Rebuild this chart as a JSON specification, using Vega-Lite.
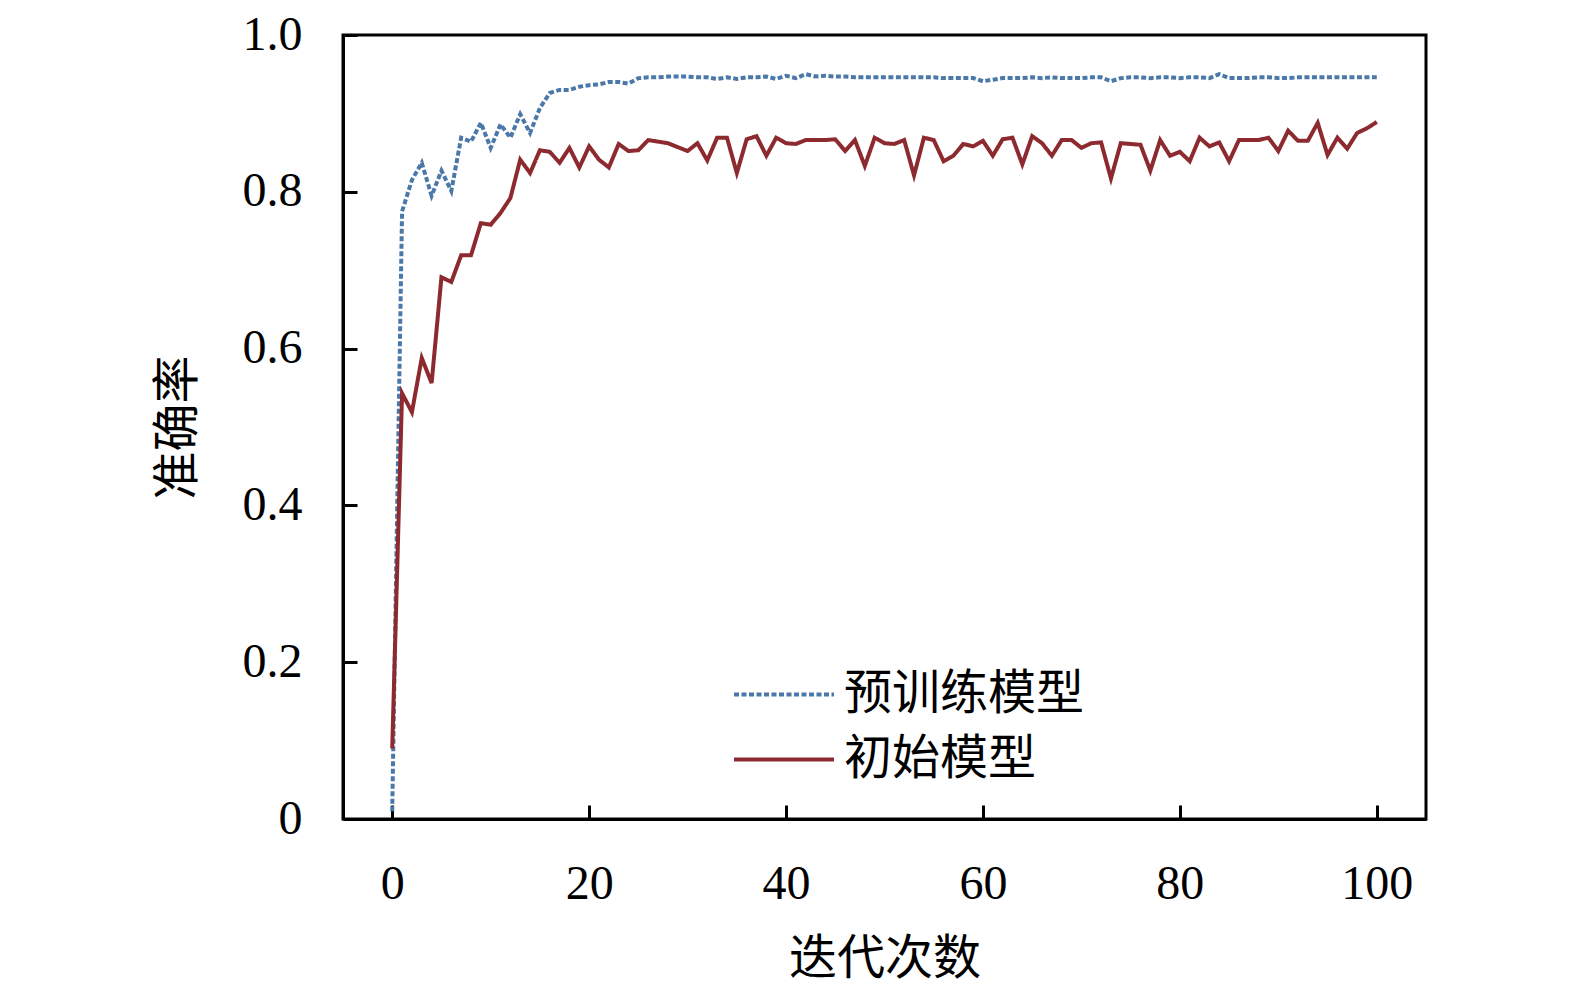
{
  "$schema": "https://vega.github.io/schema/vega-lite/v6.json",
  "width": 1083,
  "height": 784,
  "autosize": {"type": "none"},
  "padding": {"left": 343, "top": 35, "right": 149, "bottom": 171},
  "background": "white",
  "data": {
    "values": [
      {"epoch": 0, "pretrained": 0.01, "initial": 0.09},
      {"epoch": 1, "pretrained": 0.775, "initial": 0.543},
      {"epoch": 2, "pretrained": 0.815, "initial": 0.519},
      {"epoch": 3, "pretrained": 0.837, "initial": 0.588},
      {"epoch": 4, "pretrained": 0.795, "initial": 0.556},
      {"epoch": 5, "pretrained": 0.827, "initial": 0.691},
      {"epoch": 6, "pretrained": 0.801, "initial": 0.685},
      {"epoch": 7, "pretrained": 0.869, "initial": 0.719},
      {"epoch": 8, "pretrained": 0.864, "initial": 0.719},
      {"epoch": 9, "pretrained": 0.888, "initial": 0.76},
      {"epoch": 10, "pretrained": 0.856, "initial": 0.758},
      {"epoch": 11, "pretrained": 0.886, "initial": 0.773},
      {"epoch": 12, "pretrained": 0.869, "initial": 0.792},
      {"epoch": 13, "pretrained": 0.899, "initial": 0.841},
      {"epoch": 14, "pretrained": 0.875, "initial": 0.824},
      {"epoch": 15, "pretrained": 0.907, "initial": 0.853},
      {"epoch": 16, "pretrained": 0.926, "initial": 0.851},
      {"epoch": 17, "pretrained": 0.93, "initial": 0.837},
      {"epoch": 18, "pretrained": 0.93, "initial": 0.856},
      {"epoch": 19, "pretrained": 0.934, "initial": 0.831},
      {"epoch": 20, "pretrained": 0.936, "initial": 0.858},
      {"epoch": 21, "pretrained": 0.937, "initial": 0.841},
      {"epoch": 22, "pretrained": 0.94, "initial": 0.831},
      {"epoch": 23, "pretrained": 0.94, "initial": 0.861},
      {"epoch": 24, "pretrained": 0.938, "initial": 0.852},
      {"epoch": 25, "pretrained": 0.945, "initial": 0.853},
      {"epoch": 26, "pretrained": 0.946, "initial": 0.866},
      {"epoch": 27, "pretrained": 0.946, "initial": 0.864},
      {"epoch": 28, "pretrained": 0.947, "initial": 0.862},
      {"epoch": 29, "pretrained": 0.947, "initial": 0.857},
      {"epoch": 30, "pretrained": 0.947, "initial": 0.852},
      {"epoch": 31, "pretrained": 0.946, "initial": 0.862},
      {"epoch": 32, "pretrained": 0.946, "initial": 0.84},
      {"epoch": 33, "pretrained": 0.944, "initial": 0.869},
      {"epoch": 34, "pretrained": 0.946, "initial": 0.869},
      {"epoch": 35, "pretrained": 0.944, "initial": 0.824},
      {"epoch": 36, "pretrained": 0.946, "initial": 0.867},
      {"epoch": 37, "pretrained": 0.946, "initial": 0.871},
      {"epoch": 38, "pretrained": 0.947, "initial": 0.846},
      {"epoch": 39, "pretrained": 0.944, "initial": 0.869},
      {"epoch": 40, "pretrained": 0.948, "initial": 0.862},
      {"epoch": 41, "pretrained": 0.945, "initial": 0.861},
      {"epoch": 42, "pretrained": 0.95, "initial": 0.866},
      {"epoch": 43, "pretrained": 0.947, "initial": 0.866},
      {"epoch": 44, "pretrained": 0.948, "initial": 0.866},
      {"epoch": 45, "pretrained": 0.947, "initial": 0.867},
      {"epoch": 46, "pretrained": 0.947, "initial": 0.852},
      {"epoch": 47, "pretrained": 0.946, "initial": 0.866},
      {"epoch": 48, "pretrained": 0.946, "initial": 0.833},
      {"epoch": 49, "pretrained": 0.946, "initial": 0.869},
      {"epoch": 50, "pretrained": 0.946, "initial": 0.862},
      {"epoch": 51, "pretrained": 0.946, "initial": 0.861},
      {"epoch": 52, "pretrained": 0.946, "initial": 0.866},
      {"epoch": 53, "pretrained": 0.946, "initial": 0.821},
      {"epoch": 54, "pretrained": 0.946, "initial": 0.869},
      {"epoch": 55, "pretrained": 0.946, "initial": 0.866},
      {"epoch": 56, "pretrained": 0.945, "initial": 0.839},
      {"epoch": 57, "pretrained": 0.945, "initial": 0.846},
      {"epoch": 58, "pretrained": 0.945, "initial": 0.861},
      {"epoch": 59, "pretrained": 0.945, "initial": 0.858},
      {"epoch": 60, "pretrained": 0.941, "initial": 0.865},
      {"epoch": 61, "pretrained": 0.943, "initial": 0.846},
      {"epoch": 62, "pretrained": 0.945, "initial": 0.867},
      {"epoch": 63, "pretrained": 0.945, "initial": 0.869},
      {"epoch": 64, "pretrained": 0.945, "initial": 0.835},
      {"epoch": 65, "pretrained": 0.946, "initial": 0.871},
      {"epoch": 66, "pretrained": 0.945, "initial": 0.862},
      {"epoch": 67, "pretrained": 0.946, "initial": 0.846},
      {"epoch": 68, "pretrained": 0.945, "initial": 0.866},
      {"epoch": 69, "pretrained": 0.945, "initial": 0.866},
      {"epoch": 70, "pretrained": 0.945, "initial": 0.856},
      {"epoch": 71, "pretrained": 0.946, "initial": 0.862},
      {"epoch": 72, "pretrained": 0.946, "initial": 0.863},
      {"epoch": 73, "pretrained": 0.941, "initial": 0.817},
      {"epoch": 74, "pretrained": 0.945, "initial": 0.862},
      {"epoch": 75, "pretrained": 0.946, "initial": 0.861},
      {"epoch": 76, "pretrained": 0.946, "initial": 0.86},
      {"epoch": 77, "pretrained": 0.945, "initial": 0.827},
      {"epoch": 78, "pretrained": 0.946, "initial": 0.866},
      {"epoch": 79, "pretrained": 0.946, "initial": 0.846},
      {"epoch": 80, "pretrained": 0.945, "initial": 0.851},
      {"epoch": 81, "pretrained": 0.946, "initial": 0.839},
      {"epoch": 82, "pretrained": 0.946, "initial": 0.869},
      {"epoch": 83, "pretrained": 0.945, "initial": 0.858},
      {"epoch": 84, "pretrained": 0.95, "initial": 0.863},
      {"epoch": 85, "pretrained": 0.945, "initial": 0.839},
      {"epoch": 86, "pretrained": 0.945, "initial": 0.866},
      {"epoch": 87, "pretrained": 0.945, "initial": 0.866},
      {"epoch": 88, "pretrained": 0.946, "initial": 0.866},
      {"epoch": 89, "pretrained": 0.946, "initial": 0.869},
      {"epoch": 90, "pretrained": 0.945, "initial": 0.852},
      {"epoch": 91, "pretrained": 0.945, "initial": 0.878},
      {"epoch": 92, "pretrained": 0.946, "initial": 0.865},
      {"epoch": 93, "pretrained": 0.946, "initial": 0.865},
      {"epoch": 94, "pretrained": 0.946, "initial": 0.888},
      {"epoch": 95, "pretrained": 0.946, "initial": 0.847},
      {"epoch": 96, "pretrained": 0.946, "initial": 0.869},
      {"epoch": 97, "pretrained": 0.946, "initial": 0.855},
      {"epoch": 98, "pretrained": 0.946, "initial": 0.875},
      {"epoch": 99, "pretrained": 0.946, "initial": 0.881},
      {"epoch": 100, "pretrained": 0.946, "initial": 0.889}
    ]
  },
  "transform": [
    {"fold": ["pretrained", "initial"], "as": ["model", "acc"]}
  ],
  "mark": {"type": "line", "strokeWidth": 4},
  "encoding": {
    "x": {
      "field": "epoch",
      "type": "quantitative",
      "title": "迭代次数",
      "scale": {"domain": [-5, 105], "nice": false, "zero": false},
      "axis": {"values": [0, 20, 40, 60, 80, 100], "titlePadding": 27}
    },
    "y": {
      "field": "acc",
      "type": "quantitative",
      "title": "准确率",
      "scale": {"domain": [0, 1], "nice": false},
      "axis": {
        "values": [0, 0.2, 0.4, 0.6, 0.8, 1.0],
        "labelExpr": "datum.value == 0 ? '0' : format(datum.value, '.1f')",
        "titlePadding": 40
      }
    },
    "color": {
      "field": "model",
      "type": "nominal",
      "scale": {"domain": ["pretrained", "initial"], "range": ["#4a78a8", "#8c2a2f"]},
      "legend": {
        "title": null,
        "orient": "none",
        "legendX": 389,
        "legendY": 632,
        "labelExpr": "datum.value == 'pretrained' ? '预训练模型' : '初始模型'"
      }
    },
    "strokeDash": {
      "field": "model",
      "type": "nominal",
      "scale": {"domain": ["pretrained", "initial"], "range": [[5, 2.5], [1, 0]]},
      "legend": null
    }
  },
  "config": {
    "view": {"stroke": "black", "strokeWidth": 3},
    "axis": {
      "grid": false,
      "domainColor": "black",
      "domainWidth": 3,
      "tickColor": "black",
      "tickWidth": 3,
      "tickSize": -14,
      "labelFont": "Liberation Serif",
      "labelFontSize": 48,
      "labelColor": "black",
      "labelPadding": 55,
      "titleFont": "Noto Sans CJK SC",
      "titleFontSize": 48,
      "titleFontWeight": "normal",
      "titleColor": "black"
    },
    "legend": {
      "symbolType": "stroke",
      "symbolSize": 10000,
      "symbolStrokeWidth": 4,
      "labelFont": "Noto Sans CJK SC",
      "labelFontSize": 48,
      "labelColor": "black",
      "labelLimit": 0,
      "labelOffset": 8,
      "clipHeight": 55,
      "rowPadding": 10
    }
  }
}
